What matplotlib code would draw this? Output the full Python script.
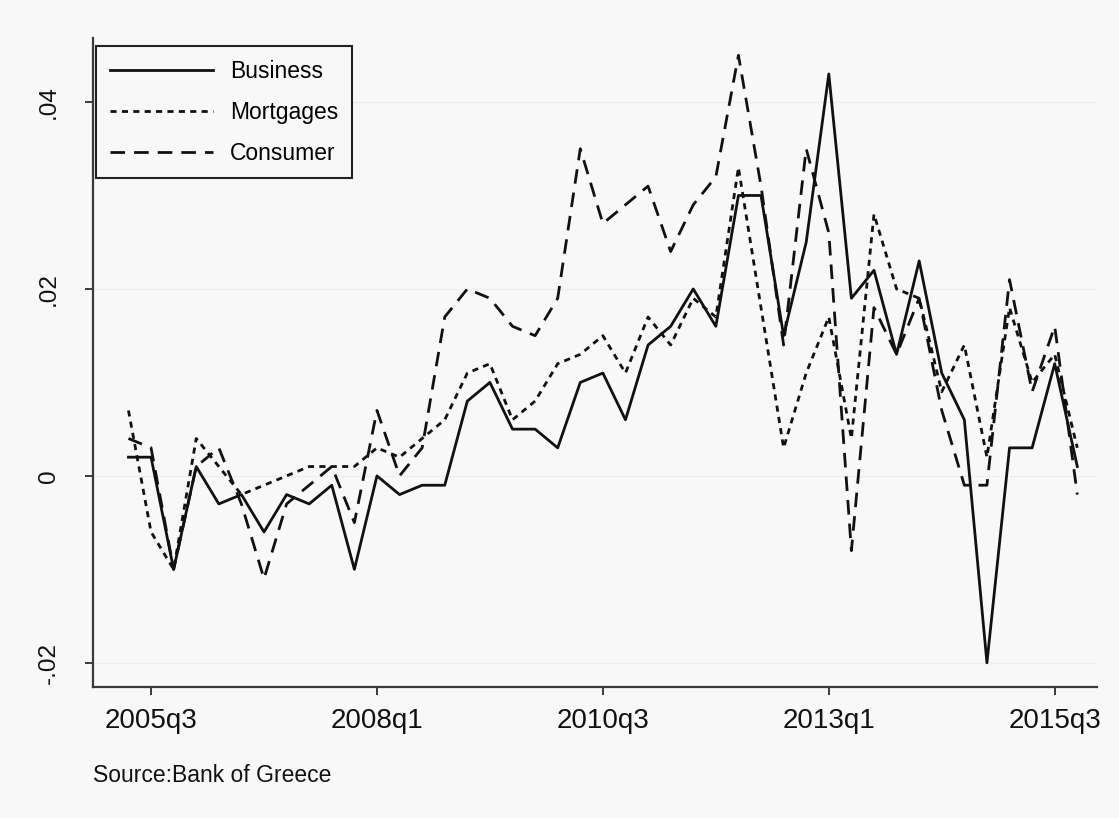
"""Quarterly loan spreads by segment (Greece), Stata-style line chart.

Saves out.png.
"""
import matplotlib

matplotlib.use("Agg")
import matplotlib.pyplot as plt
import numpy as np
import pandas as pd
from matplotlib.ticker import FuncFormatter

BG = "#f8f8f8"
INK = "#111111"
GRID = "#e9f0f0"

# 2005q2 .. 2015q4
quarters = pd.period_range("2005Q2", "2015Q4", freq="Q")

business = [
    0.002, 0.002, -0.010, 0.001, -0.003, -0.002, -0.006, -0.002, -0.003, -0.001,
    -0.010, 0.000, -0.002, -0.001, -0.001, 0.008, 0.010, 0.005, 0.005, 0.003,
    0.010, 0.011, 0.006, 0.014, 0.016, 0.020, 0.016, 0.030, 0.030, 0.015,
    0.025, 0.043, 0.019, 0.022, 0.013, 0.023, 0.011, 0.006, -0.020, 0.003,
    0.003, 0.012, 0.001,
]
mortgages = [
    0.007, -0.006, -0.010, 0.004, 0.001, -0.002, -0.001, 0.000, 0.001, 0.001,
    0.001, 0.003, 0.002, 0.004, 0.006, 0.011, 0.012, 0.006, 0.008, 0.012,
    0.013, 0.015, 0.011, 0.017, 0.014, 0.019, 0.017, 0.033, 0.018, 0.003,
    0.011, 0.017, 0.004, 0.028, 0.020, 0.019, 0.009, 0.014, 0.002, 0.018,
    0.010, 0.013, 0.003,
]
consumer = [
    0.004, 0.003, -0.010, 0.001, 0.003, -0.003, -0.011, -0.003, -0.001, 0.001,
    -0.005, 0.007, 0.000, 0.003, 0.017, 0.020, 0.019, 0.016, 0.015, 0.019,
    0.035, 0.027, 0.029, 0.031, 0.024, 0.029, 0.032, 0.045, 0.031, 0.014,
    0.035, 0.026, -0.008, 0.018, 0.013, 0.019, 0.007, -0.001, -0.001, 0.021,
    0.009, 0.016, -0.002,
]

tick_quarters = ["2005Q3", "2008Q1", "2010Q3", "2013Q1", "2015Q3"]
y_ticks = [-0.02, 0.0, 0.02, 0.04]

plt.rcParams.update({
    "font.family": ["Liberation Sans", "DejaVu Sans"],
    "lines.scale_dashes": False,
})

fig = plt.figure(figsize=(11.19, 8.18), dpi=100, facecolor=BG)
ax = fig.add_axes([0.0831, 0.160, 0.897, 0.793], facecolor=BG)

x = np.arange(len(quarters))
lw = 2.0
ax.plot(x, business, color=INK, lw=lw, ls="-", label="Business", zorder=3)
ax.plot(x, mortgages, color=INK, lw=lw, ls=(0, (4.4, 3.8)), label="Mortgages", zorder=3)
ax.plot(x, consumer, color=INK, lw=lw, ls=(0, (10.5, 6.5)), label="Consumer", zorder=3)

ax.set_xlim(-1.57, 42.86)
ax.set_ylim(-0.0226, 0.0468)

ax.set_yticks(y_ticks)
ax.yaxis.set_major_formatter(
    FuncFormatter(lambda v, _: "0" if abs(v) < 1e-12 else f"{v:.2f}".replace("0.", "."))
)
for lab in ax.get_yticklabels():
    lab.set_rotation(90)
    lab.set_va("center")

pos = [list(quarters.astype(str)).index(q) for q in tick_quarters]
ax.set_xticks(pos)
ax.set_xticklabels([q.lower() for q in tick_quarters])

ax.grid(axis="y", color=GRID, lw=0.9, zorder=0)
ax.set_axisbelow(True)

for side in ("top", "right"):
    ax.spines[side].set_visible(False)
for side in ("left", "bottom"):
    ax.spines[side].set_color("#3a3a3a")
    ax.spines[side].set_linewidth(1.6)

ax.tick_params(axis="x", direction="out", length=6, width=1.4, color="#3a3a3a",
               labelsize=20, pad=9, labelcolor=INK)
ax.tick_params(axis="y", direction="out", length=6, width=1.4, color="#3a3a3a",
               labelsize=17.5, pad=18, labelcolor=INK)

leg = ax.legend(
    loc="upper left",
    bbox_to_anchor=(0.003, 0.988),
    borderaxespad=0,
    fontsize=16.5,
    frameon=True,
    fancybox=False,
    facecolor=BG,
    edgecolor="#222222",
    framealpha=1,
    handlelength=4.5,
    handletextpad=0.75,
    labelspacing=0.78,
    borderpad=0.6,
)
leg.get_frame().set_linewidth(1.5)

fig.text(0.083, 0.052, "Source:Bank of Greece", fontsize=16.5, color=INK,
         ha="left", va="center")

fig.savefig("out.png", dpi=100, facecolor=BG)
